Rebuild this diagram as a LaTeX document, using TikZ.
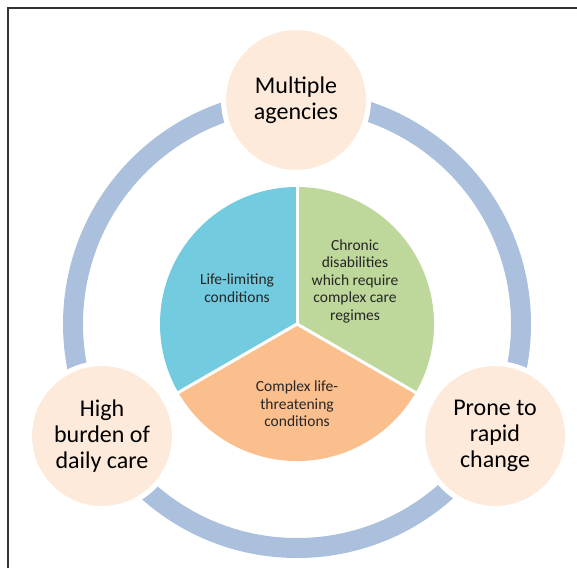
\documentclass[tikz,border=0pt]{standalone}
\usepackage{fontspec}
\setmainfont{Carlito}
\definecolor{ringblue}{HTML}{ABC0DC}
\definecolor{peach}{HTML}{FDEADA}
\definecolor{pieblue}{HTML}{72CBDF}
\definecolor{piegreen}{HTML}{BED89B}
\definecolor{pieorange}{HTML}{FBBF8D}
\definecolor{framegray}{HTML}{333333}
\tikzset{
  outerbubble/.style={circle, fill=peach, draw=white, line width=5pt,
    minimum size=145pt, inner sep=0pt, align=center,
    font=\fontsize{24}{26}\selectfont, text=black},
  sectorlabel/.style={align=center, inner sep=0pt,
    font=\fontsize{15.5}{17.5}\selectfont, text=black!85},
  sector/.style={draw=white, line width=3pt, line join=round},
}
\begin{document}
\begin{tikzpicture}[x=1pt,y=-1pt]
  % y grows downwards, so angles run clockwise on the page
  \useasboundingbox (0,0) rectangle (577,568);
  % partial frame
  \draw[framegray, line width=1.3pt] (8,568) -- (8,8) -- (577,8);

  \coordinate (c) at (297,324);
  % ring linking the three bubbles
  \draw[ringblue, line width=20pt] (c) circle (224);

  % central pie
  \fill[pieblue]   (c) -- ++(-90:137) arc[start angle=-90, end angle=-210, radius=137] -- cycle;
  \fill[piegreen]  (c) -- ++(30:137) arc[start angle=30, end angle=-90, radius=137] -- cycle;
  \fill[pieorange] (c) -- ++(150:137) arc[start angle=150, end angle=30, radius=137] -- cycle;
  \draw[sector] (c) -- ++(-90:138);
  \draw[sector] (c) -- ++(150:138);
  \draw[sector] (c) -- ++(30:138);

  \node[sectorlabel] (lim) at (237,288) {Life-limiting\\conditions};
  \node[sectorlabel] (chr) at (355,281) {Chronic\\disabilities\\which require\\complex care\\regimes};
  \node[sectorlabel] (thr) at (297,404) {Complex life-\\threatening\\conditions};

  % outer bubbles
  \node[outerbubble] (agencies) at (296,100) {Multiple\\agencies};
  \node[outerbubble] (burden) at (102,436) {High\\burden of\\daily care};
  \node[outerbubble] (change) at (495,436) {Prone to\\rapid\\change};
\end{tikzpicture}
\end{document}
